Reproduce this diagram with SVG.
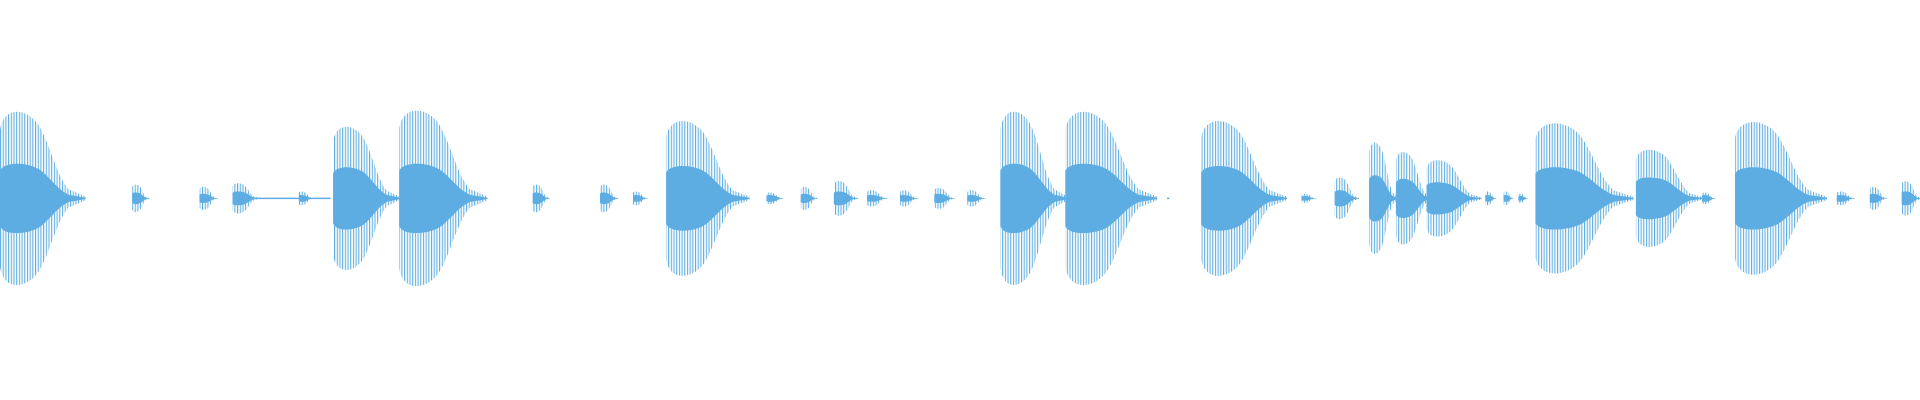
<svg xmlns="http://www.w3.org/2000/svg" width="1920" height="400" viewBox="0 0 1920 400">
<defs>
<path id="u" d="M0,0 L0,-0.75 C0.04,-1 0.3,-1 0.45,-0.8 C0.58,-0.6 0.66,-0.25 0.8,-0.1 L1,-0.02 L1,0.02 L0.8,0.1 C0.66,0.25 0.58,0.6 0.45,0.8 C0.3,1 0.04,1 0,0.75Z"/>
<pattern id="st" patternUnits="userSpaceOnUse" width="2.2" height="10"><rect width="0.9" height="10" fill="#5DADE2"/></pattern>
<clipPath id="env">
<use href="#u" transform="translate(0,162) scale(70,75)"/>
<use href="#u" transform="translate(108,162) scale(14,12)"/>
<use href="#u" transform="translate(163,162) scale(15,10)"/>
<use href="#u" transform="translate(190,162) scale(22,13)"/>
<use href="#u" transform="translate(244,162) scale(12,6)"/>
<use href="#u" transform="translate(272,162) scale(55,62)"/>
<use href="#u" transform="translate(326,162) scale(72,76)"/>
<use href="#u" transform="translate(435,162) scale(14,12)"/>
<use href="#u" transform="translate(490,162) scale(15,12)"/>
<use href="#u" transform="translate(517,162) scale(12,6)"/>
<use href="#u" transform="translate(544,162) scale(68,67)"/>
<use href="#u" transform="translate(626,162) scale(14,5)"/>
<use href="#u" transform="translate(654,162) scale(14,10)"/>
<use href="#u" transform="translate(681,162) scale(20,15)"/>
<use href="#u" transform="translate(708,162) scale(17,7)"/>
<use href="#u" transform="translate(735,162) scale(15,7)"/>
<use href="#u" transform="translate(763,162) scale(17,9)"/>
<use href="#u" transform="translate(790,162) scale(15,7)"/>
<use href="#u" transform="translate(817,162) scale(55,75)"/>
<use href="#u" transform="translate(870,162) scale(75,75)"/>
<use href="#u" transform="translate(981,162) scale(70,67)"/>
<use href="#u" transform="translate(1063,162) scale(12,4)"/>
<use href="#u" transform="translate(1090,162) scale(20,18)"/>
<use href="#u" transform="translate(1118,162) scale(24,48)"/>
<use href="#u" transform="translate(1140,162) scale(30,40)"/>
<use href="#u" transform="translate(1165,162) scale(45,33)"/>
<use href="#u" transform="translate(1213,162) scale(9,6)"/>
<use href="#u" transform="translate(1228,162) scale(8,6)"/>
<use href="#u" transform="translate(1240,162) scale(8,4)"/>
<use href="#u" transform="translate(1254,162) scale(80,65)"/>
<use href="#u" transform="translate(1336,162) scale(55,42)"/>
<use href="#u" transform="translate(1390,162) scale(11,5)"/>
<use href="#u" transform="translate(1417,162) scale(75,66)"/>
<use href="#u" transform="translate(1500,162) scale(15,6)"/>
<use href="#u" transform="translate(1527,162) scale(14,10)"/>
<use href="#u" transform="translate(1553,162) scale(16,15)"/>
</clipPath>
</defs>
<rect width="1920" height="400" fill="#ffffff"/>
<g transform="scale(1.2245)">
<rect x="0" y="0" width="1568" height="330" fill="url(#st)" clip-path="url(#env)"/>
<g fill="#5DADE2">
<use href="#u" transform="translate(0,162) scale(70,30)"/>
<use href="#u" transform="translate(108,162) scale(14,5)"/>
<use href="#u" transform="translate(163,162) scale(15,4)"/>
<use href="#u" transform="translate(190,162) scale(22,6)"/>
<rect x="205" y="161.4" width="65" height="1.2"/>
<use href="#u" transform="translate(244,162) scale(12,3)"/>
<use href="#u" transform="translate(272,162) scale(55,27)"/>
<use href="#u" transform="translate(326,162) scale(72,30)"/>
<use href="#u" transform="translate(435,162) scale(14,5)"/>
<use href="#u" transform="translate(490,162) scale(15,5)"/>
<use href="#u" transform="translate(517,162) scale(12,3)"/>
<use href="#u" transform="translate(544,162) scale(68,28)"/>
<use href="#u" transform="translate(626,162) scale(14,3)"/>
<use href="#u" transform="translate(654,162) scale(14,4)"/>
<use href="#u" transform="translate(681,162) scale(20,6)"/>
<use href="#u" transform="translate(708,162) scale(17,3)"/>
<use href="#u" transform="translate(735,162) scale(15,3)"/>
<use href="#u" transform="translate(763,162) scale(17,4)"/>
<use href="#u" transform="translate(790,162) scale(15,3)"/>
<use href="#u" transform="translate(817,162) scale(55,30)"/>
<use href="#u" transform="translate(870,162) scale(75,30)"/>
<rect x="953" y="161.4" width="2" height="1.2"/>
<use href="#u" transform="translate(981,162) scale(70,28)"/>
<use href="#u" transform="translate(1063,162) scale(12,2)"/>
<use href="#u" transform="translate(1090,162) scale(20,7)"/>
<use href="#u" transform="translate(1118,162) scale(24,20)"/>
<use href="#u" transform="translate(1140,162) scale(30,17)"/>
<use href="#u" transform="translate(1165,162) scale(45,14)"/>
<use href="#u" transform="translate(1213,162) scale(9,3)"/>
<use href="#u" transform="translate(1228,162) scale(8,3)"/>
<use href="#u" transform="translate(1240,162) scale(8,2)"/>
<use href="#u" transform="translate(1254,162) scale(80,27)"/>
<use href="#u" transform="translate(1336,162) scale(55,18)"/>
<use href="#u" transform="translate(1390,162) scale(11,3)"/>
<use href="#u" transform="translate(1417,162) scale(75,27)"/>
<use href="#u" transform="translate(1500,162) scale(15,3)"/>
<use href="#u" transform="translate(1527,162) scale(14,4)"/>
<use href="#u" transform="translate(1553,162) scale(16,6)"/>
</g>
</g>
</svg>
